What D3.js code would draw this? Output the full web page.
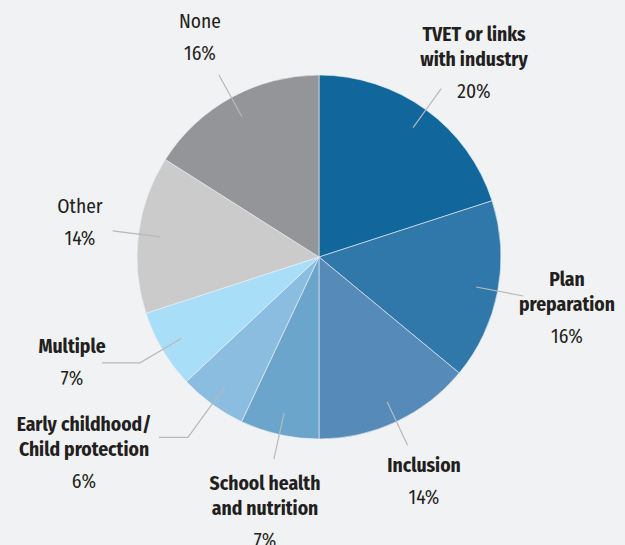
<!DOCTYPE html>
<html><head><meta charset="utf-8">
<script src="https://cdn.jsdelivr.net/npm/d3@7"></script>
<style>
html,body{margin:0;padding:0;background:#f1f2f4;}
svg{display:block;}
text{font-family:"Fira Sans Condensed","Liberation Sans Narrow","DejaVu Sans Condensed",sans-serif;fill:#231f20;}
</style></head>
<body>
<svg id="c" width="625" height="545"></svg>
<script>
const categories = ["TVET or links with industry","Plan preparation","Inclusion","School health and nutrition","Early childhood/ Child protection","Multiple","Other","None"];
const values = [20,16,14,7,6,7,14,16];
const colors = ["#11679b","#2f78a9","#568bb9","#6ba5cb","#8bbde0","#a8def7","#cbcbcb","#949598"];
const labelLines = [["TVET or links","with industry"],["Plan","preparation"],["Inclusion"],["School health","and nutrition"],["Early childhood/","Child protection"],["Multiple"],["Other"],["None"]];
const boldLabel = [true,true,true,true,true,true,false,false];

// layout (positions only)
const cx = 319, cy = 257, R = 182;
const labelPos = [[474,41],[567,286],[424,472],[265,490],[84,431],[72,353],[80,213],[200,28]];
const leaderOuter = [208,208,208,207,223,208,208,208];
const leaderTail = [0,0,0,0,29,38,0,0];
const fs = 19.5;

const svg = d3.select("#c");
const g = svg.append("g").attr("transform",`translate(${cx},${cy})`);
const pie = d3.pie().sort(null).value(d=>d.v);
const data = pie(categories.map((c,i)=>({c,v:values[i],i})));
const arc = d3.arc().innerRadius(0).outerRadius(R);

g.selectAll("path.s").data(data).enter().append("path")
  .attr("d",arc).attr("fill",d=>colors[d.data.i])
  .attr("stroke","#eef2f6").attr("stroke-width",0.6);

// leader lines
data.forEach(d=>{
  const i=d.data.i;
  const a=(d.startAngle+d.endAngle)/2;
  const p1=[Math.sin(a)*160,-Math.cos(a)*160];
  const p2=[Math.sin(a)*leaderOuter[i],-Math.cos(a)*leaderOuter[i]];
  const pts=[p1,p2];
  if(leaderTail[i]) pts.push([p2[0]+(Math.sin(a)<0?-leaderTail[i]:leaderTail[i]),p2[1]]);
  g.append("path").attr("d",d3.line()(pts)).attr("fill","none")
   .attr("stroke","#b9b9bb").attr("stroke-width",1.2);
});

// labels
data.forEach(d=>{
  const i=d.data.i;
  const [x,y]=labelPos[i];
  const t=svg.append("text").attr("text-anchor","middle").attr("font-size",fs);
  labelLines[i].forEach((ln,k)=>{
    t.append("tspan").attr("x",x).attr("y",y+k*25).text(ln)
     .attr("font-weight",boldLabel[i]?"bold":"normal");
  });
  svg.append("text").attr("text-anchor","middle").attr("font-size",fs)
    .attr("x",x).attr("y",y+(labelLines[i].length-1)*25+32).text(values[i]+"%");
});
</script>
</body></html>
